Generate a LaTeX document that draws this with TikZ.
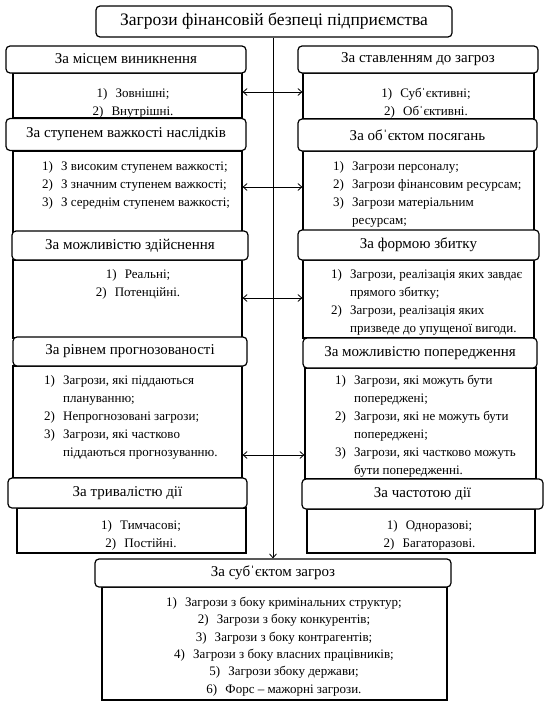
\documentclass[tikz,border=0pt]{standalone}
\usepackage{fontspec}
\setmainfont{Liberation Serif}
\usetikzlibrary{arrows.meta}
\newcommand\li[2]{\makebox[19pt][l]{#1}#2}
\newcommand\lc[1]{\hspace*{19pt}#1}
\tikzset{
  hdr/.style={draw, line width=1.2pt, rounded corners=4pt, fill=white, inner sep=0pt,
    font=\fontsize{15}{18}\selectfont},
  ttl/.style={hdr, font=\fontsize{17.5}{20}\selectfont},
  cbox/.style={draw, line width=1.2pt, inner sep=0pt},
  lst/.style={inner sep=0pt, align=left, anchor=north west, font=\fontsize{13}{18}\selectfont},
  lstc/.style={inner sep=0pt, align=center, anchor=north, font=\fontsize{13}{18}\selectfont},
  conn/.style={line width=0.8pt},
  dbl/.style={conn, {Straight Barb[length=4pt,width=7pt]}-{Straight Barb[length=4pt,width=7pt]}},
  down/.style={conn, -{Straight Barb[length=4pt,width=7pt]}}
}
\begin{document}
\begin{tikzpicture}[x=1pt,y=-1pt]
\useasboundingbox (0,0) rectangle (547,704);
% content boxes
\node[cbox, minimum width=229pt, minimum height=45pt] (c1l) at (127.5,95.5) {};
\node[cbox, minimum width=229pt, minimum height=81pt] (c2l) at (127.5,191.5) {};
\node[cbox, minimum width=229pt, minimum height=78pt] (c3l) at (127.5,299) {};
\node[cbox, minimum width=229pt, minimum height=112pt] (c4l) at (127.5,422) {};
\node[cbox, minimum width=229pt, minimum height=45pt] (c5l) at (131.5,530.5) {};
\node[cbox, minimum width=231pt, minimum height=46pt] (c1r) at (418.5,96) {};
\node[cbox, minimum width=231pt, minimum height=81pt] (c2r) at (418.5,191.5) {};
\node[cbox, minimum width=231pt, minimum height=78pt] (c3r) at (418.5,299) {};
\node[cbox, minimum width=231pt, minimum height=111pt] (c4r) at (420.5,423.5) {};
\node[cbox, minimum width=228pt, minimum height=44pt] (c5r) at (421,531) {};
\node[cbox, minimum width=345pt, minimum height=113pt] (cb) at (274.5,643.5) {};
% headers
\node[ttl, minimum width=356pt, minimum height=31pt] (title) at (274,21.5) {Загрози фінансовій безпеці підприємства};
\node[hdr, minimum width=240pt, minimum height=27pt] (h1l) at (126,59.5) {За місцем виникнення};
\node[hdr, minimum width=240pt, minimum height=32pt] (h2l) at (126,134.5) {За ступенем важкості наслідків};
\node[hdr, minimum width=236pt, minimum height=29pt] (h3l) at (130,245.5) {За можливістю здійснення};
\node[hdr, minimum width=234pt, minimum height=29pt] (h4l) at (130,351.5) {За рівнем прогнозованості};
\node[hdr, minimum width=239pt, minimum height=30pt] (h5l) at (127.5,493) {За тривалістю дії};
\node[hdr, minimum width=240pt, minimum height=27pt] (h1r) at (418,59.5) {За ставленням до загроз};
\node[hdr, minimum width=239pt, minimum height=32pt] (h2r) at (417.5,135) {За обˈєктом посягань};
\node[hdr, minimum width=241pt, minimum height=30pt] (h3r) at (418.5,245) {За формою збитку};
\node[hdr, minimum width=234pt, minimum height=30pt] (h4r) at (420,353) {За можливістю попередження};
\node[hdr, minimum width=241pt, minimum height=30pt] (h5r) at (422.5,494) {За частотою дії};
\node[hdr, minimum width=356pt, minimum height=28pt] (hb) at (273,573) {За субˈєктом загроз};
% texts
\node[lstc] (t1l) at (133,88) {\li{1)}{Зовнішні;}\\\li{2)}{Внутрішні.}};
\node[lstc] (t1r) at (426,88) {\li{1)}{Субˈєктивні;}\\\li{2)}{Обˈєктивні.}};
\node[lst] (t2l) at (42,161) {\li{1)}{З високим ступенем важкості;}\\\li{2)}{З значним ступенем важкості;}\\\li{3)}{З середнім ступенем важкості;}};
\node[lst] (t2r) at (333,161) {\li{1)}{Загрози персоналу;}\\\li{2)}{Загрози фінансовим ресурсам;}\\\li{3)}{Загрози матеріальним}\\\lc{ресурсам;}};
\node[lstc] (t3l) at (138,269) {\li{1)}{Реальні;}\\\li{2)}{Потенційні.}};
\node[lst] (t3r) at (331,269) {\li{1)}{Загрози, реалізація яких завдає}\\\lc{прямого збитку;}\\\li{2)}{Загрози, реалізація яких}\\\lc{призведе до упущеної вигоди.}};
\node[lst] (t4l) at (44,375) {\li{1)}{Загрози, які піддаються}\\\lc{плануванню;}\\\li{2)}{Непрогнозовані загрози;}\\\li{3)}{Загрози, які частково}\\\lc{піддаються прогнозуванню.}};
\node[lst] (t4r) at (335,375) {\li{1)}{Загрози, які можуть бути}\\\lc{попереджені;}\\\li{2)}{Загрози, які не можуть бути}\\\lc{попереджені;}\\\li{3)}{Загрози, які частково можуть}\\\lc{бути попередженні.}};
\node[lstc] (t5l) at (141,520) {\li{1)}{Тимчасові;}\\\li{2)}{Постійні.}};
\node[lstc] (t5r) at (429.5,520) {\li{1)}{Одноразові;}\\\li{2)}{Багаторазові.}};
\node[lstc, font=\fontsize{13}{17.3}\selectfont] (tb) at (284,597) {\li{1)}{Загрози з боку кримінальних структур;}\\\li{2)}{Загрози з боку конкурентів;}\\\li{3)}{Загрози з боку контрагентів;}\\\li{4)}{Загрози з боку власних працівників;}\\\li{5)}{Загрози збоку держави;}\\\li{6)}{Форс – мажорні загрози.}};
% connectors
\coordinate (v) at (273,0);
\coordinate (a1) at (0,92);
\coordinate (a2) at (0,187);
\coordinate (a3) at (0,298);
\coordinate (a4) at (0,455);
\draw[down] (title.south -| v) -- (hb.north -| v);
\draw[dbl] (c1l.east |- a1) -- (c1r.west |- a1);
\draw[dbl] (c2l.east |- a2) -- (c2r.west |- a2);
\draw[dbl] (c3l.east |- a3) -- (c3r.west |- a3);
\draw[dbl] (c4l.east |- a4) -- (c4r.west |- a4);
\end{tikzpicture}
\end{document}
